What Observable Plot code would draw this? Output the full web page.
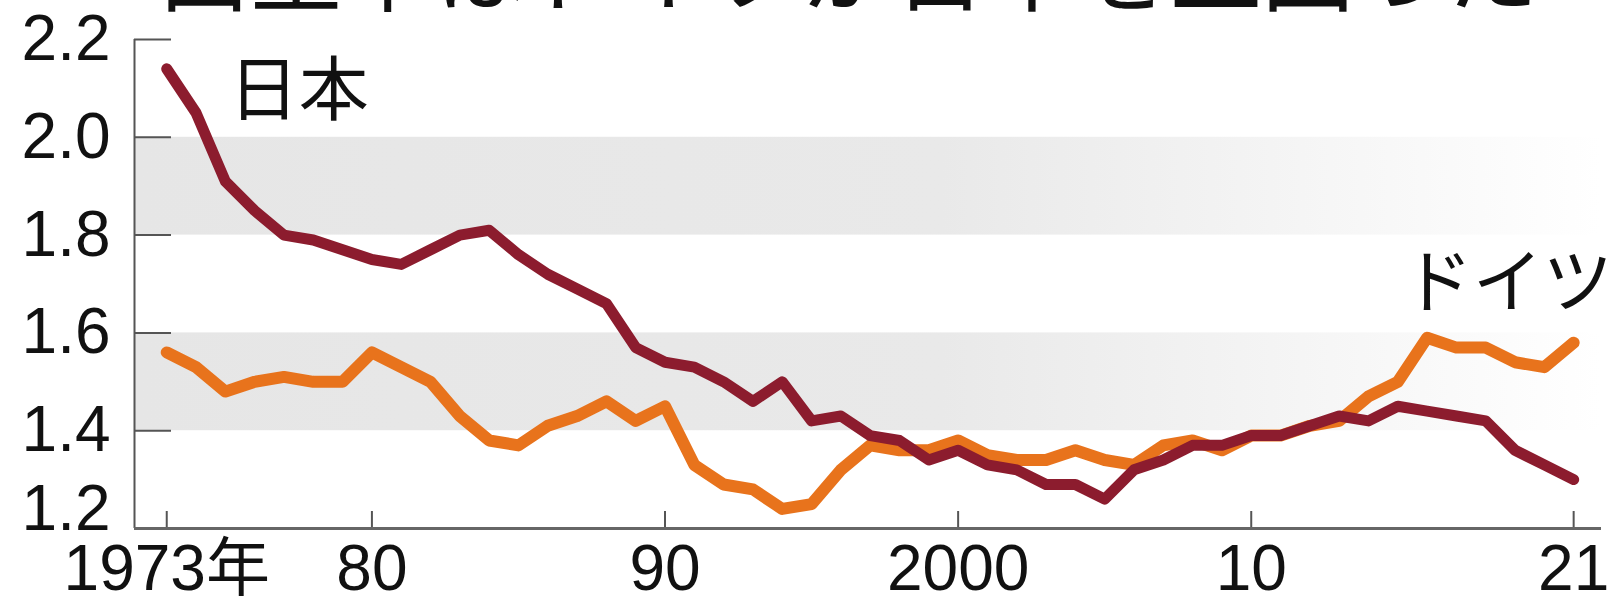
<!DOCTYPE html>
<html>
<head>
<meta charset="utf-8">
<script src="https://cdn.jsdelivr.net/npm/d3@7"></script>
<script src="https://cdn.jsdelivr.net/npm/@observablehq/plot@0.6"></script>
<style>
  body { margin: 0; background: #fff; }
  #title { position: relative; height: 12px; width: 1615px; overflow: hidden; }
  #title div { position: absolute; left: 158px; top: -82px; font: 92px/1 "Noto Sans CJK JP", sans-serif; white-space: nowrap; color: #111; }
  #chart svg { display: block; }
</style>
</head>
<body>
<div id="title"><div>出生率はドイツが日本を上回った</div></div>
<div id="chart"></div>
<script>
const years = [1973,1974,1975,1976,1977,1978,1979,1980,1981,1982,1983,1984,1985,1986,1987,1988,1989,1990,1991,1992,1993,1994,1995,1996,1997,1998,1999,2000,2001,2002,2003,2004,2005,2006,2007,2008,2009,2010,2011,2012,2013,2014,2015,2016,2017,2018,2019,2020,2021];
const japan = [2.14,2.05,1.91,1.85,1.80,1.79,1.77,1.75,1.74,1.77,1.80,1.81,1.76,1.72,1.69,1.66,1.57,1.54,1.53,1.50,1.46,1.50,1.42,1.43,1.39,1.38,1.34,1.36,1.33,1.32,1.29,1.29,1.26,1.32,1.34,1.37,1.37,1.39,1.39,1.41,1.43,1.42,1.45,1.44,1.43,1.42,1.36,1.33,1.30];
const germany = [1.56,1.53,1.48,1.50,1.51,1.50,1.50,1.56,1.53,1.50,1.43,1.38,1.37,1.41,1.43,1.46,1.42,1.45,1.33,1.29,1.28,1.24,1.25,1.32,1.37,1.36,1.36,1.38,1.35,1.34,1.34,1.36,1.34,1.33,1.37,1.38,1.36,1.39,1.39,1.41,1.42,1.47,1.50,1.59,1.57,1.57,1.54,1.53,1.58];
const xTicks = [1973,1980,1990,2000,2010,2021];
const xTickLabels = ["1973年","80","90","2000","10","21"];
const yTicks = [1.2,1.4,1.6,1.8,2.0,2.2];
const yTickLabels = ["1.2","1.4","1.6","1.8","2.0","2.2"];
const bandLo = [1.4,1.8];
const bandHi = [1.6,2.0];
const seriesLabels = ["日本","ドイツ"];
const labelYears = [1977.5,2018.75];
const labelValues = [2.092,1.699];

const xDomain = [1971.9, 2021.95];
const yDomain = [1.2, 2.2];
const numFont = "'Liberation Sans', Arial, sans-serif";
const jpFont = "'Noto Sans CJK JP', sans-serif";

const jpData = years.map((y,i)=>({year:y, v:japan[i]}));
const deData = years.map((y,i)=>({year:y, v:germany[i]}));
const bands = bandLo.map((lo,i)=>({lo, hi:bandHi[i]}));
const labels = seriesLabels.map((t,i)=>({t, x:labelYears[i], y:labelValues[i]}));
const xt = xTicks.map((x,i)=>({x, t:xTickLabels[i]}));
const yt = yTicks.map((y,i)=>({y, t:yTickLabels[i]}));

const W = 1615, H = 593, mT = 27, mB = 77, mL = 134, mR = 14;
const plotW = W - mL - mR, plotH = H - mT - mB;

const chart = Plot.plot({
  width: W, height: H,
  marginTop: mT, marginBottom: mB, marginLeft: mL, marginRight: mR,
  x: {domain: xDomain, axis: null},
  y: {domain: yDomain, axis: null},
  style: {background: "#fff", overflow: "visible"},
  marks: [
    Plot.rect(bands, {x1: xDomain[0], x2: xDomain[1], y1: "lo", y2: "hi", fill: "url(#fade)"}),
    Plot.ruleX([xDomain[0]], {y1: yDomain[0], y2: yDomain[1], stroke: "#555", strokeWidth: 2}),
    Plot.tickY(yt.filter(d => d.y > yDomain[0]), {y: "y", insetRight: plotW - 37, stroke: "#555", strokeWidth: 2}),
    Plot.tickX(xt, {x: "x", insetTop: plotH - 17, stroke: "#555", strokeWidth: 2}),
    Plot.ruleY([yDomain[0]], {stroke: "#666", strokeWidth: 3}),
    Plot.line(deData, {x: "year", y: "v", stroke: "#e8731c", strokeWidth: 12, strokeLinejoin: "round", strokeLinecap: "round"}),
    Plot.line(jpData, {x: "year", y: "v", stroke: "#8c1c2e", strokeWidth: 11, strokeLinejoin: "round", strokeLinecap: "round"}),
    Plot.text(yt.filter(d => d.y > yDomain[0]), {x: xDomain[0], y: "y", text: "t", dx: -24, textAnchor: "end", lineAnchor: "middle", fontSize: 64, fontFamily: numFont, fill: "#111"}),
    Plot.text(yt.filter(d => d.y === yDomain[0]), {x: xDomain[0], y: "y", text: "t", dx: -24, dy: -19, textAnchor: "end", lineAnchor: "middle", fontSize: 64, fontFamily: numFont, fill: "#111"}),
    Plot.text(xt, {x: "x", y: yDomain[0], text: "t", dy: 16, lineAnchor: "top", fontSize: 64, fontFamily: numFont + ", " + jpFont, fill: "#111"}),
    Plot.text(labels, {x: "x", y: "y", text: "t", fontSize: 70, fontFamily: jpFont, fill: "#111", lineAnchor: "middle"})
  ]
});

const svg = d3.select(chart);
const grad = svg.insert("defs", ":first-child").append("linearGradient")
  .attr("id", "fade").attr("x1", "0").attr("x2", "1").attr("y1", "0").attr("y2", "0");
grad.append("stop").attr("offset", "0").attr("stop-color", "#e6e6e6");
grad.append("stop").attr("offset", "0.55").attr("stop-color", "#e9e9e9");
grad.append("stop").attr("offset", "1").attr("stop-color", "#ffffff");

document.getElementById("chart").appendChild(chart);
</script>
</body>
</html>
